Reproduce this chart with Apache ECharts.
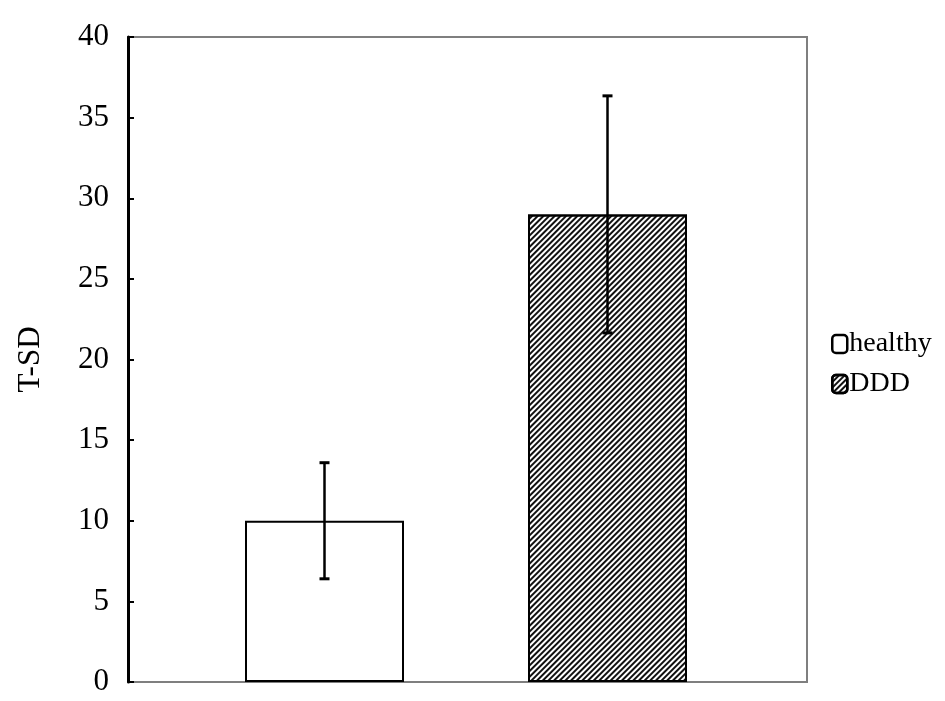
<!DOCTYPE html>
<html lang="en">
<head>
    <meta charset="UTF-8">
    <title>T-SD</title>
    <style>
        html, body { margin: 0; padding: 0; background: #fff; }
        #main { width: 945px; height: 701px; }
    </style>
</head>
<body>
    <div id="main"></div>
    <script src="https://cdn.jsdelivr.net/npm/echarts@6/dist/echarts.min.js"></script>
    <script>
        // data
        var groups = ['healthy', 'DDD'];
        var means = [10, 29];
        var errs = [3.6, 7.35];
        var yTicks = [0, 40, 5]; // min, max, step

        var font = "'Liberation Serif', 'Times New Roman', serif";
        var chart = echarts.init(document.getElementById('main'));

        var hatch = {
            symbol: 'rect',
            color: '#111',
            dashArrayX: [1, 0],
            dashArrayY: [1.5, 1.5],
            rotation: -Math.PI / 4
        };

        var barSeries = groups.map(function (g, i) {
            var style = { color: '#fff', borderColor: '#000', borderWidth: 2 };
            if (i === 1) style.decal = hatch;
            return {
                name: g,
                type: 'bar',
                xAxisIndex: 1,
                yAxisIndex: 1,
                barWidth: 159,
                barGap: '-100%',
                data: groups.map(function (_, j) { return j === i ? means[j] : '-'; }),
                itemStyle: style,
                emphasis: { disabled: true },
                z: 2
            };
        });

        var errData = groups.map(function (_, i) {
            return [i, means[i] - errs[i], means[i] + errs[i]];
        });

        var option = {
            animation: false,
            backgroundColor: '#fff',
            grid: [
                { left: 128, right: 138, top: 37, bottom: 19, show: true, borderColor: '#7f7f7f', borderWidth: 2, backgroundColor: 'transparent' },
                { left: 183, right: 196, top: 37, bottom: 19 }
            ],
            legend: {
                orient: 'vertical',
                left: 826,
                top: 325,
                itemWidth: 15,
                itemHeight: 18,
                itemGap: 12,
                icon: 'roundRect',
                data: groups,
                itemStyle: { borderWidth: 2.5 },
                textStyle: { fontFamily: font, fontSize: 28, color: '#000', padding: [0, 0, 0, -3] }
            },
            xAxis: [
                { type: 'category', gridIndex: 0, data: [''], show: false },
                { type: 'category', gridIndex: 1, data: groups, show: false }
            ],
            yAxis: [
                {
                    type: 'value',
                    gridIndex: 0,
                    min: yTicks[0],
                    max: yTicks[1],
                    interval: yTicks[2],
                    name: 'T-SD',
                    nameLocation: 'middle',
                    nameGap: 82,
                    nameTextStyle: { fontFamily: font, fontSize: 31, color: '#000' },
                    axisLine: { show: true, lineStyle: { color: '#000', width: 3 } },
                    axisTick: { show: true, inside: true, length: 6, lineStyle: { color: '#000', width: 2 } },
                    axisLabel: { fontFamily: font, fontSize: 31, color: '#000', margin: 19 },
                    splitLine: { show: false }
                },
                { type: 'value', gridIndex: 1, min: yTicks[0], max: yTicks[1], show: false }
            ],
            series: barSeries.concat([{
                type: 'custom',
                xAxisIndex: 1,
                yAxisIndex: 1,
                data: errData,
                z: 5,
                silent: true,
                renderItem: function (params, api) {
                    var x = api.value(0);
                    var lo = api.coord([x, api.value(1)]);
                    var hi = api.coord([x, api.value(2)]);
                    var cap = 5;
                    return {
                        type: 'group',
                        children: [
                            { type: 'line', shape: { x1: lo[0], y1: lo[1], x2: hi[0], y2: hi[1] }, style: { stroke: '#000', lineWidth: 2.5 } },
                            { type: 'line', shape: { x1: lo[0] - cap, y1: lo[1], x2: lo[0] + cap, y2: lo[1] }, style: { stroke: '#000', lineWidth: 3 } },
                            { type: 'line', shape: { x1: hi[0] - cap, y1: hi[1], x2: hi[0] + cap, y2: hi[1] }, style: { stroke: '#000', lineWidth: 3 } }
                        ]
                    };
                }
            }])
        };

        chart.setOption(option);
    </script>
</body>
</html>
